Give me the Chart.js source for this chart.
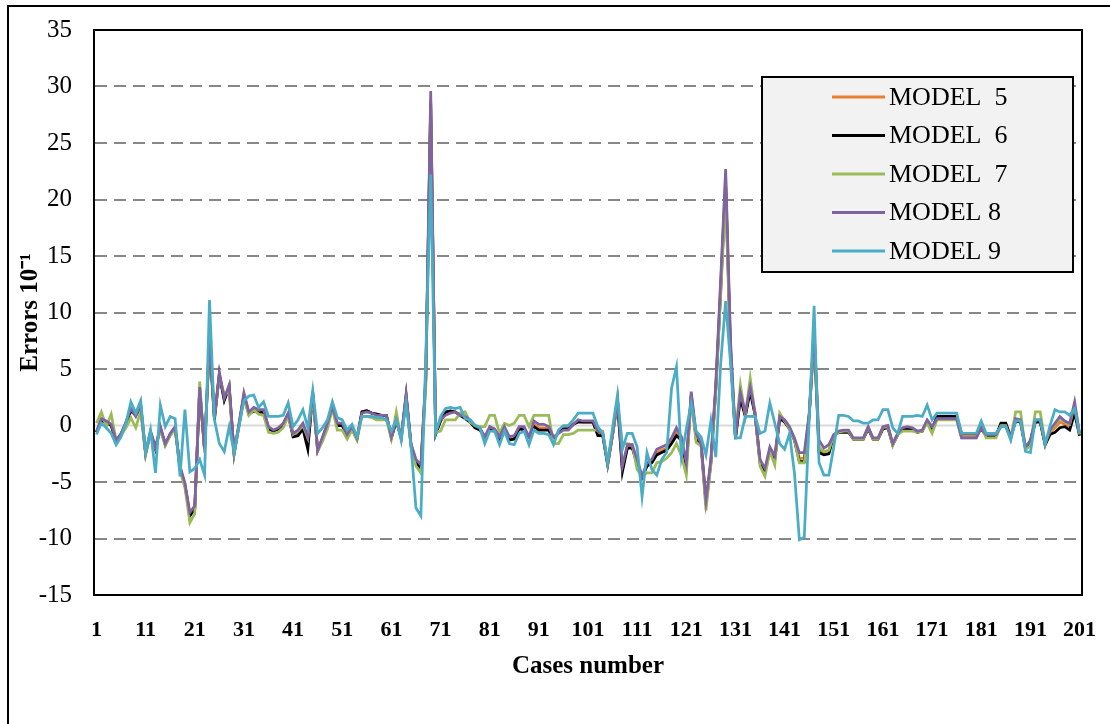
<!DOCTYPE html>
<html>
<head>
<meta charset="utf-8">
<script src="https://cdn.jsdelivr.net/npm/chart.js@4.4.1/dist/chart.umd.min.js"></script>
<style>
  html, body { margin: 0; padding: 0; background: #fff; }
  #wrap { position: relative; width: 1110px; height: 724px; overflow: hidden; }
  #frame { position: absolute; left: 7px; top: 5px; width: 1200px; height: 800px; border: 2px solid #000; box-sizing: border-box; }
  #chart { position: absolute; left: 0; top: 0; }
</style>
</head>
<body>
<div id="wrap">
  <div id="frame"></div>
  <canvas id="chart" width="1110" height="724"></canvas>
</div>
<script>
// cases 1..201
var cases = [];
for (var n = 1; n <= 201; n++) cases.push(String(n));

var seriesNames = ['MODEL  5', 'MODEL  6', 'MODEL  7', 'MODEL 8', 'MODEL 9'];
var seriesColors = ['#ED7D31', '#000000', '#9BBB59', '#8064A2', '#4BACC6'];

var model5 = [
  -0.6, 0.5, 0.3, 0.0, -1.4, -0.8, 0.2, 1.4, 0.9, 1.7,
  -2.5, -0.6, -2.0, -0.2, -1.7, -0.8, -0.2, -3.7, -5.2, -7.9,
  -7.3, 3.3, -2.2, 7.6, 0.6, 4.6, 2.3, 3.5, -2.5, 0.1,
  2.7, 1.1, 1.4, 1.2, 1.3, -0.2, -0.5, -0.3, 0.1, 1.0,
  -0.9, -0.7, -0.1, -1.8, 2.9, -2.2, -1.1, 0.1, 1.6, 0.1,
  0.1, -0.9, -0.2, -1.2, 1.2, 1.3, 1.1, 1.0, 0.9, 0.9,
  -1.1, 0.4, -1.1, 2.7, -1.7, -3.2, -3.7, 4.2, 28.8, -0.7,
  0.4, 1.1, 1.2, 1.2, 0.9, 0.7, 0.4, -0.1, -0.3, -1.0,
  -0.3, -0.4, -1.1, -0.3, -1.2, -1.1, -0.2, -0.3, -1.0, 0.1,
  -0.2, -0.2, -0.3, -1.2, -0.6, -0.3, -0.3, 0.1, 0.4, 0.3,
  0.3, 0.3, -0.7, -0.8, -3.4, -0.8, 2.2, -3.9, -1.9, -1.9,
  -3.2, -4.5, -3.5, -3.2, -2.4, -2.2, -2.0, -1.4, -0.6, -1.2,
  -3.5, 2.8, -1.0, -1.6, -6.8, -3.2, 3.4, 12.5, 22.0, 7.0,
  -1.1, 2.6, 0.9, 3.2, 1.0, -3.2, -4.0, -2.1, -2.9, 0.7,
  0.4, -0.2, -1.2, -2.9, -2.9, 0.9, 8.2, -2.0, -2.4, -2.2,
  -0.9, -0.6, -0.5, -0.5, -1.2, -1.2, -1.2, -0.2, -1.2, -1.2,
  -0.2, -0.1, -1.7, -0.8, -0.3, -0.2, -0.3, -0.6, -0.5, 0.4,
  -0.2, 0.7, 0.7, 0.7, 0.7, 0.7, -0.9, -0.9, -0.9, -0.9,
  -0.3, -0.9, -0.9, -0.9, 0.1, 0.1, -1.1, 0.5, 0.4, -2.0,
  -1.4, 0.4, 0.4, -1.7, -0.6, -0.2, 0.3, 0.1, -0.1, 1.6,
  -0.8
];

var model6 = [
  -0.6, 0.4, 0.3, 0.0, -1.4, -0.8, 0.2, 1.3, 0.9, 1.6,
  -2.5, -0.6, -2.1, -0.2, -1.7, -0.8, -0.2, -3.8, -5.3, -8.0,
  -7.4, 3.2, -2.2, 7.5, 0.5, 4.5, 2.2, 3.4, -2.5, 0.0,
  2.6, 1.0, 1.3, 1.1, 1.2, -0.3, -0.5, -0.3, 0.1, 1.0,
  -1.0, -0.9, -0.3, -2.1, 2.8, -2.2, -1.2, 0.1, 1.6, 0.0,
  0.0, -1.0, -0.3, -1.2, 1.2, 1.3, 1.1, 1.0, 0.9, 0.9,
  -1.1, 0.4, -1.1, 2.6, -1.8, -3.3, -3.8, 4.0, 28.5, -0.8,
  0.4, 1.2, 1.3, 1.2, 0.9, 0.6, 0.3, -0.2, -0.4, -1.0,
  -0.4, -0.5, -1.2, -0.4, -1.3, -1.2, -0.3, -0.4, -1.0, -0.1,
  -0.4, -0.4, -0.4, -1.3, -0.6, -0.3, -0.3, 0.1, 0.3, 0.3,
  0.3, 0.3, -0.9, -0.9, -3.5, -0.8, 2.1, -4.1, -2.0, -2.0,
  -3.4, -4.6, -3.6, -3.3, -2.6, -2.4, -2.2, -1.6, -0.9, -1.3,
  -3.6, 2.6, -1.2, -1.6, -7.0, -3.3, 3.2, 12.0, 21.3, 6.5,
  -1.2, 2.4, 0.8, 3.0, 0.9, -3.3, -4.1, -2.2, -3.0, 0.6,
  0.3, -0.3, -1.3, -3.2, -3.2, 0.8, 8.0, -2.4, -2.6, -2.5,
  -0.9, -0.6, -0.6, -0.6, -1.2, -1.2, -1.2, -0.3, -1.2, -1.2,
  -0.3, -0.2, -1.7, -0.8, -0.4, -0.3, -0.4, -0.6, -0.5, 0.4,
  -0.3, 0.8, 0.8, 0.8, 0.8, 0.8, -0.7, -0.7, -0.7, -0.7,
  -0.3, -0.9, -0.9, -0.9, 0.2, 0.2, -1.0, 0.4, 0.3, -2.0,
  -1.4, 0.3, 0.3, -1.7, -0.8, -0.6, -0.2, -0.1, -0.4, 1.1,
  -0.9
];

var model7 = [
  0.2, 1.2, -0.1, 1.0, -1.3, -0.9, -0.2, 0.7, -0.2, 1.3,
  -2.6, -0.7, -2.0, -0.4, -1.8, -0.9, -0.3, -4.0, -5.5, -8.6,
  -7.8, 3.9, -2.4, 7.8, 0.8, 4.3, 2.8, 2.9, -2.6, -0.1,
  2.4, 0.9, 1.4, 1.0, 0.9, -0.6, -0.7, -0.6, -0.2, 0.8,
  -0.8, -0.5, 0.0, -1.1, 2.6, -2.3, -1.4, -0.3, 1.5, -0.4,
  -0.4, -1.2, -0.4, -1.3, 0.8, 0.8, 0.7, 0.5, 0.5, 0.5,
  -1.2, 1.2, -1.2, 2.4, -2.0, -3.6, -4.2, 3.5, 27.5, -0.6,
  -0.5, 0.5, 0.5, 0.5, 1.1, 1.2, 0.3, 0.0, -0.1, -0.1,
  0.9, 0.9, -0.7, 0.2, 0.0, 0.2, 0.9, 0.9, -0.1, 0.9,
  0.9, 0.9, 0.9, -1.6, -1.6, -0.8, -0.8, -0.7, -0.4, -0.4,
  -0.4, -0.4, -0.4, -0.5, -3.4, -0.9, 2.0, -1.6, -1.6, -1.7,
  -3.9, -4.5, -4.2, -4.2, -3.3, -3.2, -2.9, -2.4, -1.6, -2.7,
  -4.4, 2.6, -1.5, -1.8, -7.5, -3.5, 3.0, 11.5, 20.5, 6.0,
  -0.8, 3.6, 0.9, 4.2, 1.0, -3.6, -4.5, -2.3, -3.5, 1.1,
  0.4, -0.3, -1.3, -3.3, -3.3, 0.9, 8.0, -1.9, -2.3, -2.2,
  -0.9, -0.6, -0.5, -0.5, -1.2, -1.2, -1.2, -0.2, -1.2, -1.2,
  -0.2, -0.1, -1.8, -0.8, -0.5, -0.5, -0.5, -0.6, -0.5, 0.2,
  -0.7, 0.5, 0.5, 0.5, 0.5, 0.5, -1.1, -1.1, -1.1, -1.1,
  -0.1, -1.1, -1.1, -1.1, 0.0, 0.0, -1.2, 1.2, 1.2, -2.1,
  -1.8, 1.2, 1.2, -1.5, -0.5, 0.1, 0.6, 0.3, 0.1, 1.8,
  -0.8
];

var model8 = [
  -0.5, 0.6, 0.4, 0.1, -1.3, -0.7, 0.3, 1.5, 0.8, 1.9,
  -2.4, -0.5, -1.9, -0.1, -1.6, -0.7, -0.1, -3.6, -5.1, -7.7,
  -7.1, 3.4, -2.1, 8.0, 0.7, 4.7, 2.4, 3.6, -2.4, 0.2,
  2.9, 1.2, 1.6, 1.4, 1.4, -0.1, -0.4, -0.2, 0.2, 1.1,
  -0.7, -0.4, 0.2, -1.0, 3.0, -2.2, -1.0, 0.2, 1.7, 0.2,
  0.2, -0.8, -0.1, -1.1, 1.1, 1.2, 1.1, 0.9, 0.9, 0.9,
  -1.0, 0.5, -1.0, 2.8, -1.6, -3.0, -3.5, 4.5, 29.6, -0.5,
  0.5, 0.9, 1.1, 1.2, 0.9, 0.8, 0.5, 0.0, -0.2, -1.0,
  -0.1, -0.3, -1.0, -0.1, -1.0, -0.9, -0.1, -0.1, -1.0, 0.4,
  0.1, 0.1, -0.1, -1.0, -0.7, -0.4, -0.4, 0.1, 0.5, 0.4,
  0.4, 0.4, -0.5, -0.7, -3.3, -0.7, 2.3, -3.6, -1.7, -1.7,
  -3.0, -4.5, -3.3, -3.0, -2.1, -1.9, -1.7, -1.1, -0.2, -1.0,
  -3.3, 3.0, -0.7, -1.6, -6.6, -3.0, 3.7, 13.0, 22.7, 7.5,
  -1.0, 2.9, 1.1, 3.4, 1.1, -3.0, -3.8, -1.9, -2.7, 0.8,
  0.5, -0.1, -1.1, -2.4, -2.4, 1.1, 8.5, -1.3, -2.0, -1.7,
  -0.8, -0.5, -0.4, -0.4, -1.1, -1.1, -1.1, -0.1, -1.1, -1.1,
  -0.1, 0.0, -1.6, -0.7, -0.2, -0.1, -0.2, -0.5, -0.4, 0.5,
  -0.1, 0.6, 0.6, 0.6, 0.6, 0.6, -1.1, -1.1, -1.1, -1.1,
  -0.2, -0.8, -0.8, -0.8, -0.1, -0.1, -1.1, 0.6, 0.5, -1.9,
  -1.3, 0.5, 0.5, -1.6, -0.4, 0.2, 0.8, 0.4, 0.2, 2.1,
  -0.7
];

var model9 = [
  -0.8, 0.2, -0.2, -0.7, -1.7, -1.0, 0.2, 2.1, 1.1, 2.2,
  -2.4, -0.4, -4.2, 1.8, -0.1, 0.8, 0.6, -4.5, 1.4, -4.1,
  -3.8, -3.0, -4.4, 11.1, 0.5, -1.6, -2.3, -0.1, -2.4, 0.0,
  2.2, 2.6, 2.7, 1.6, 2.1, 0.8, 0.8, 0.8, 0.9, 2.0,
  -0.1, 0.5, 1.4, -0.2, 3.1, -0.7, -0.2, 0.5, 2.1, 0.7,
  0.5, -0.4, 0.1, -1.0, 0.8, 0.8, 0.8, 0.7, 0.7, 0.5,
  -0.5, 0.5, -1.3, 2.0, -1.8, -7.3, -8.0, 6.0, 22.2, -0.7,
  0.8, 1.5, 1.6, 1.5, 1.6, 0.6, 0.5, 0.0, -0.2, -1.6,
  -0.5, -0.5, -1.7, -0.5, -1.6, -1.7, -0.7, -0.5, -1.7, -0.4,
  -0.7, -0.7, -0.8, -1.7, -0.4, 0.0, 0.0, 0.5, 1.1, 1.1,
  1.1, 1.1, -0.1, -0.7, -3.3, -0.2, 2.7, -2.1, -0.7, -0.7,
  -1.9, -6.3, -2.4, -3.9, -4.4, -3.0, -2.4, 3.3, 5.2, -2.8,
  -0.3, 2.0, -0.5, -1.0, -2.6, 0.4, -2.8, 5.5, 11.0, 5.5,
  -1.1, -1.1, 0.8, 0.8, 0.8, -0.7, -0.5, 2.0, 0.2, -1.6,
  -2.1, -0.7, -4.2, -10.1, -9.9, 0.5, 10.6, -3.3, -4.4, -4.4,
  -1.9, 0.9, 0.9, 0.8, 0.4, 0.4, 0.2, 0.2, 0.5, 0.5,
  1.4, 1.4, -0.2, -0.7, 0.8, 0.8, 0.8, 0.9, 0.8, 1.8,
  0.5, 1.1, 1.1, 1.1, 1.1, 1.1, -0.7, -0.7, -0.7, -0.7,
  0.4, -0.7, -0.7, -0.7, -0.1, -0.1, -1.3, 0.4, 0.4, -2.3,
  -2.4, 0.5, 0.5, -1.7, 0.0, 1.4, 1.2, 1.2, 0.9, 1.5,
  -0.7
];

var yMin = -15, yMax = 35, yStep = 5;

// solid light zero line + black frame round the plot area
const plotFrame = {
  id: 'plotFrame',
  beforeDatasetsDraw(chart) {
    const ctx = chart.ctx, area = chart.chartArea;
    const y0 = chart.scales.y.getPixelForValue(0);
    ctx.save();
    ctx.strokeStyle = '#d9d9d9';
    ctx.lineWidth = 2;
    ctx.beginPath();
    ctx.moveTo(area.left, y0);
    ctx.lineTo(area.right, y0);
    ctx.stroke();
    ctx.restore();
  },
  afterDatasetsDraw(chart) {
    const ctx = chart.ctx, area = chart.chartArea;
    ctx.save();
    ctx.strokeStyle = '#000';
    ctx.lineWidth = 2;
    ctx.strokeRect(area.left, area.top, area.right - area.left, area.bottom - area.top);
    ctx.restore();
  }
};

// boxed legend inside the plot, top right
const boxLegend = {
  id: 'boxLegend',
  afterDraw(chart) {
    const ctx = chart.ctx, area = chart.chartArea;
    const bx = area.right - 320, by = area.top + 47, bw = 311, bh = 195;
    ctx.save();
    ctx.fillStyle = '#f2f2f2';
    ctx.fillRect(bx, by, bw, bh);
    ctx.strokeStyle = '#000';
    ctx.lineWidth = 2;
    ctx.strokeRect(bx, by, bw, bh);
    ctx.font = '26px "Liberation Serif", "Times New Roman", serif';
    ctx.textBaseline = 'middle';
    ctx.fillStyle = '#000';
    chart.data.datasets.forEach(function(ds, i) {
      const cy = by + 20 + i * 38.5;
      ctx.strokeStyle = ds.borderColor;
      ctx.lineWidth = 3;
      ctx.beginPath();
      ctx.moveTo(bx + 70, cy);
      ctx.lineTo(bx + 123, cy);
      ctx.stroke();
      ctx.fillText(ds.label, bx + 127, cy + 1);
    });
    ctx.restore();
  }
};

var allSeries = [model5, model6, model7, model8, model9];
var datasets = allSeries.map(function(vals, i) {
  return {
    label: seriesNames[i],
    data: vals,
    borderColor: seriesColors[i],
    backgroundColor: seriesColors[i],
    borderWidth: 2.75,
    pointRadius: 0,
    tension: 0,
    order: allSeries.length - i
  };
});

new Chart(document.getElementById('chart'), {
  type: 'line',
  data: { labels: cases, datasets: datasets },
  plugins: [plotFrame, boxLegend],
  options: {
    responsive: false,
    animation: false,
    layout: { padding: { left: 12, top: 30, right: 28, bottom: 10 } },
    plugins: {
      legend: { display: false },
      tooltip: { enabled: false }
    },
    scales: {
      x: {
        type: 'category',
        offset: true,
        grid: { display: false },
        border: { color: '#000', width: 2 },
        ticks: {
          autoSkip: false,
          maxRotation: 0,
          minRotation: 0,
          padding: 14,
          color: '#000',
          font: { family: '"Liberation Serif", "Times New Roman", serif', size: 22, weight: 'bold' },
          callback: function(val, idx) { return idx % 10 === 0 ? this.getLabelForValue(val) : ''; }
        },
        title: {
          display: true,
          text: 'Cases number',
          color: '#000',
          padding: { top: 4, bottom: 32 },
          font: { family: '"Liberation Serif", "Times New Roman", serif', size: 25, weight: 'bold' }
        },
        afterFit: function(scale) { scale.height = 724 - 10 - 595; scale.paddingLeft = 0; scale.paddingRight = 0; }
      },
      y: {
        min: yMin,
        max: yMax,
        grid: {
          drawTicks: false,
          lineWidth: 2,
          color: function(c) { return c.tick && c.tick.value === 0 ? 'rgba(0,0,0,0)' : '#878787'; }
        },
        border: { color: '#000', width: 2, dash: [12, 7] },
        ticks: {
          stepSize: yStep,
          padding: 22,
          color: '#000',
          font: { family: '"Liberation Serif", "Times New Roman", serif', size: 25 }
        },
        title: {
          display: true,
          text: 'Errors 10\u207B\u00B9',
          color: '#000',
          padding: { top: 4, bottom: 4 },
          font: { family: '"Liberation Serif", "Times New Roman", serif', size: 25, weight: 'bold' }
        },
        afterFit: function(scale) { scale.width = 94 - 12; scale.paddingTop = 0; scale.paddingBottom = 0; }
      }
    }
  }
});
</script>
</body>
</html>
